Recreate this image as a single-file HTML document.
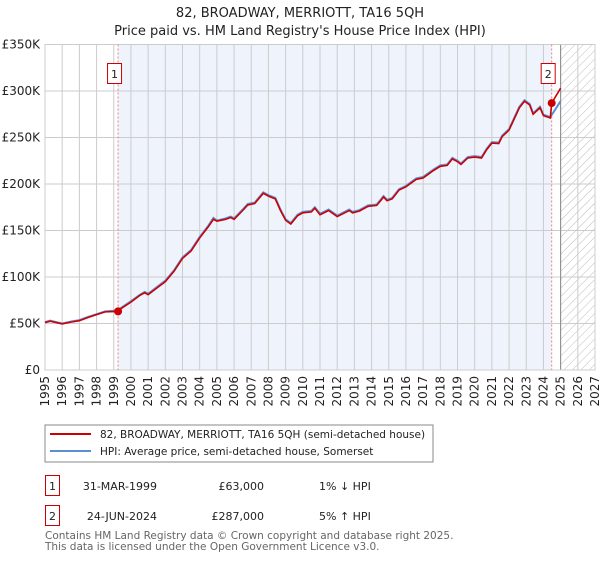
<!DOCTYPE html>
<html><head><meta charset="utf-8"><style>
body{margin:0;background:#fff;font-family:"DejaVu Sans","Liberation Sans",sans-serif;}
svg text{font-family:"DejaVu Sans","Liberation Sans",sans-serif;}
</style></head><body>
<svg id="c" width="600" height="560" xmlns="http://www.w3.org/2000/svg">
<defs><pattern id="hatch" width="6" height="6" patternUnits="userSpaceOnUse" patternTransform="rotate(45)"><line x1="0" y1="0" x2="0" y2="6" stroke="#bbb" stroke-width="1"/></pattern></defs>
<text x="300" y="17" text-anchor="middle" font-size="13" fill="#222">82, BROADWAY, MERRIOTT, TA16 5QH</text>
<text x="300" y="35" text-anchor="middle" font-size="13" fill="#222">Price paid vs. HM Land Registry's House Price Index (HPI)</text>
<g id="plot"></g>
<rect x="45" y="425" width="388" height="37" fill="#fff" stroke="#888"/>
<line x1="50" y1="434" x2="91" y2="434" stroke="#cc0000" stroke-width="2"/>
<text x="100" y="438" font-size="10.5" fill="#222">82, BROADWAY, MERRIOTT, TA16 5QH (semi-detached house)</text>
<line x1="50" y1="451" x2="91" y2="451" stroke="#5b8fd4" stroke-width="2"/>
<text x="100" y="455" font-size="10.5" fill="#222">HPI: Average price, semi-detached house, Somerset</text>
<g>
<rect x="45.5" y="475.5" width="14" height="20" fill="#fff" stroke="#cc0000"/>
<text x="52.5" y="490" text-anchor="middle" font-size="11" fill="#222">1</text>
<text x="157" y="490" text-anchor="end" font-size="11" fill="#222">31-MAR-1999</text>
<text x="264" y="490" text-anchor="end" font-size="11" fill="#222">£63,000</text>
<text x="319" y="490" font-size="11" fill="#222">1% ↓ HPI</text></g>
<g>
<rect x="45.5" y="505.5" width="14" height="20" fill="#fff" stroke="#cc0000"/>
<text x="52.5" y="520" text-anchor="middle" font-size="11" fill="#222">2</text>
<text x="157" y="520" text-anchor="end" font-size="11" fill="#222">24-JUN-2024</text>
<text x="264" y="520" text-anchor="end" font-size="11" fill="#222">£287,000</text>
<text x="319" y="520" font-size="11" fill="#222">5% ↑ HPI</text></g>
<text x="45" y="539" font-size="10.5" fill="#666">Contains HM Land Registry data © Crown copyright and database right 2025.</text>
<text x="45" y="550" font-size="10.5" fill="#666">This data is licensed under the Open Government Licence v3.0.</text>
</svg>
<script>
const hpiYears=[1995,1995.3,1996,1996.5,1997,1997.5,1998,1998.5,1999.2,1999.5,2000,2000.5,2000.8,2001,2001.5,2002,2002.5,2003,2003.5,2004,2004.5,2004.8,2005,2005.5,2005.8,2006,2006.5,2006.8,2007.2,2007.7,2008,2008.4,2008.7,2009,2009.3,2009.7,2010,2010.5,2010.7,2011,2011.5,2012,2012.7,2012.9,2013.3,2013.8,2014.3,2014.7,2014.9,2015.2,2015.6,2016,2016.6,2017,2017.6,2018,2018.4,2018.7,2019,2019.2,2019.6,2020,2020.4,2020.7,2021,2021.4,2021.6,2022,2022.3,2022.6,2022.9,2023.2,2023.4,2023.8,2024,2024.4,2025];
const hpiValues=[51.5,53,50,52,53.7,57,60,63,64,67.6,74,80.5,84,82,89,96,107,121,129,143,155,163.5,160.7,163,165,163,172.5,178.6,180,191,188,185,172.5,162,158,167,170,171,175,168,172.5,166,172.5,170,172,177,178,187,183,185,194.5,198,206,207.6,215.5,220,221,228,225,222,229,230,229,238,245,244.6,252,259,271,283,290,286,276,283,274.5,272,289];
const redYears=[1995,1995.3,1996,1996.5,1997,1997.5,1998,1998.5,1999.25,1999.5,2000,2000.5,2000.8,2001,2001.5,2002,2002.5,2003,2003.5,2004,2004.5,2004.8,2005,2005.5,2005.8,2006,2006.5,2006.8,2007.2,2007.7,2008,2008.4,2008.7,2009,2009.3,2009.7,2010,2010.5,2010.7,2011,2011.5,2012,2012.7,2012.9,2013.3,2013.8,2014.3,2014.7,2014.9,2015.2,2015.6,2016,2016.6,2017,2017.6,2018,2018.4,2018.7,2019,2019.2,2019.6,2020,2020.4,2020.7,2021,2021.4,2021.6,2022,2022.3,2022.6,2022.9,2023.2,2023.4,2023.8,2024,2024.4,2024.48,2025];
const redValues=[51,52.5,49.5,51.5,53,56.5,59.5,62.5,63,67,73,80,83,81,88,95,106,120,128,142,154,162,160,162,164,162,171.5,177.5,179,190,187,184,171.5,161,157,166,169,170,174,167,171.5,165,171.5,169,171,176,177,186,182,184,193.5,197,205,206.5,214.5,219,220,227,224,221,228,229,228,237,244,243.5,251,258,270,282,289,285,275,282,273.5,271,287,303];
const sales=[[1999.25,63],[2024.48,287]];
const yTicks=[0,50,100,150,200,250,300,350];
const yTickLabels=["£0","£50K","£100K","£150K","£200K","£250K","£300K","£350K"];
const xTicks=[1995,1996,1997,1998,1999,2000,2001,2002,2003,2004,2005,2006,2007,2008,2009,2010,2011,2012,2013,2014,2015,2016,2017,2018,2019,2020,2021,2022,2023,2024,2025,2026,2027];
const X0=45,X1=595,Y0=370,Y1=44.5;
const xs=y=>X0+(y-1995)/(2027-1995)*(X1-X0);
const ys=v=>Y0-v/350*(Y0-Y1);
const NS="http://www.w3.org/2000/svg";
const g=document.getElementById('plot');
function mk(t,a){const e=document.createElementNS(NS,t);for(const k in a)e.setAttribute(k,a[k]);g.appendChild(e);return e;}
let e=mk('rect',{x:xs(1999.25),y:Y1,width:xs(2024.48)-xs(1999.25),height:Y0-Y1,fill:'#eef3fc'});


e=mk('rect',{x:xs(2025),y:Y1,width:X1-xs(2025),height:Y0-Y1,fill:'url(#hatch)'});


xTicks.forEach(t=>{
 e=mk('line',{x1:xs(t),x2:xs(t),y1:Y1,y2:Y0,stroke:'#ccc','stroke-width':1});
 
 
 e=mk('text',{x:0,y:0,'font-size':12,fill:'#222','text-anchor':'end',transform:`translate(${xs(t)+4},${Y0+6}) rotate(-90)`});
 e.textContent=t;
 
 
});
yTicks.forEach((t,i)=>{
 e=mk('line',{x1:X0,x2:X1,y1:ys(t),y2:ys(t),stroke:'#ccc','stroke-width':1});
 
 
 e=mk('text',{x:X0-5,y:ys(t)+4,'font-size':12,fill:'#222','text-anchor':'end'});
 e.textContent=yTickLabels[i];
 
 
});
e=mk('line',{x1:xs(2025),x2:xs(2025),y1:Y1,y2:Y0,stroke:'#888','stroke-width':1});


e=mk('rect',{x:X0,y:Y1,width:X1-X0,height:Y0-Y1,fill:'none',stroke:'#ccc'});


sales.forEach((s,i)=>{
 e=mk('line',{x1:xs(s[0]),x2:xs(s[0]),y1:Y1,y2:Y0,stroke:'#f08080','stroke-dasharray':'2,2'});
 
 
});
e=mk('polyline',{points:hpiYears.map((y,i)=>xs(y)+','+ys(hpiValues[i])).join(' '),fill:'none',stroke:'#5b8fd4','stroke-width':2});


e=mk('polyline',{points:redYears.map((y,i)=>xs(y)+','+ys(redValues[i])).join(' '),fill:'none',stroke:'#cc0000','stroke-width':1.6});


sales.forEach((s,i)=>{
 e=mk('circle',{cx:xs(s[0]),cy:ys(s[1]),r:4,fill:'#cc0000'});
 
 
 e=mk('rect',{x:xs(s[0])-10.5,y:63.5,width:14,height:20,fill:'#fff',stroke:'#cc0000'});
 
 
 e=mk('text',{x:xs(s[0])-3.5,y:78,'font-size':11,fill:'#222','text-anchor':'middle'});
 e.textContent=String(i+1);
 
 
});
</script>
</body></html>
